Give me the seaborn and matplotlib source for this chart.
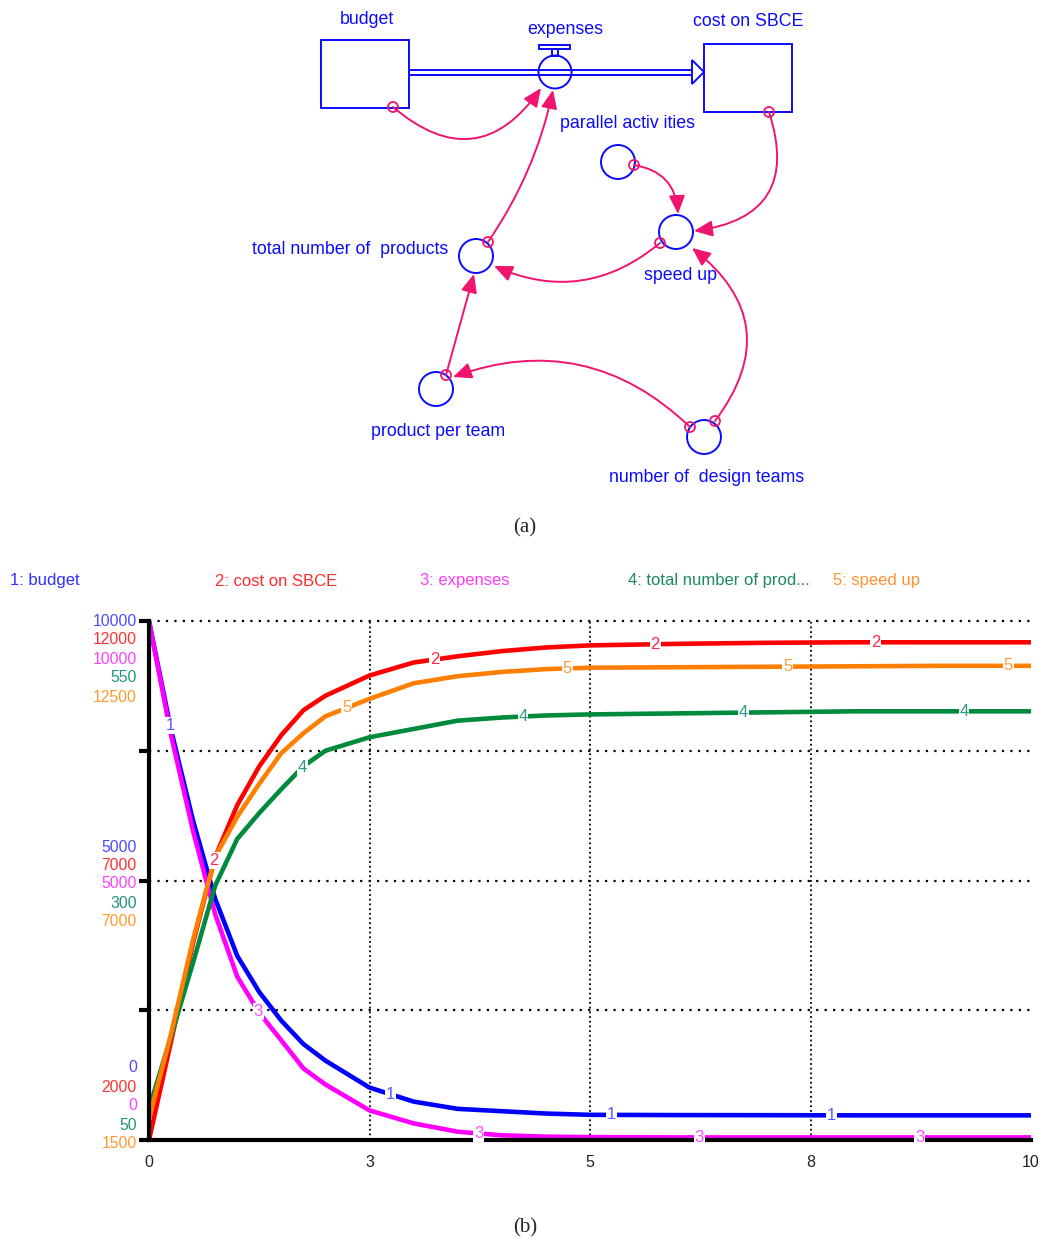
import numpy as np
import matplotlib
matplotlib.use("Agg")
import matplotlib.pyplot as plt
import seaborn as sns
from matplotlib.patches import Rectangle, Circle, FancyArrowPatch, Polygon

# ---------------- data ----------------
t = [0, 0.25, 0.5, 0.75, 1.0, 1.25, 1.5, 1.75, 2.0, 2.5, 3.0, 3.5, 4.0, 4.5,
     5.0, 6.0, 7.0, 8.0, 9.0, 10.0]
budget = [10000, 7900, 6150, 4650, 3550, 2850, 2300, 1850, 1530, 1010, 740,
          600, 555, 510, 485, 480, 478, 475, 475, 475]
cost_on_sbce = [2000, 3900, 5800, 7450, 8450, 9200, 9800, 10280, 10560, 10950,
                11200, 11320, 11420, 11490, 11530, 11560, 11580, 11590, 11590, 11590]
expenses = [10000, 7800, 5950, 4350, 3150, 2450, 1920, 1380, 1070, 570, 320,
            160, 90, 65, 55, 50, 50, 50, 50, 50]
total_products = [80, 150, 221, 295, 340, 365, 388, 410, 425, 438, 446, 454,
                  457, 459, 460, 461, 462, 463, 463, 463]
speed_up = [1950, 3750, 5750, 7500, 8350, 9050, 9700, 10120, 10480, 10850,
            11180, 11330, 11420, 11480, 11510, 11520, 11530, 11540, 11550, 11550]

series_names = ["1: budget", "2: cost on SBCE", "3: expenses",
                "4: total number of prod...", "5: speed up"]
y_lo = [0, 2000, 0, 50, 1500]
y_hi = [10000, 12000, 10000, 550, 12500]
x_ticks = [0, 2.5, 5, 7.5, 10]
x_tick_labels = ["0", "3", "5", "8", "10"]

# ---------------- figure ----------------
W, H = 1043, 1245
sns.set_style("white")
plt.rcParams["font.family"] = ["Liberation Sans", "DejaVu Sans"]
fig = plt.figure(figsize=(W / 100, H / 100), dpi=100)


def fx(px):
    return px / W


def fy(py):
    return 1 - py / H


# ---------------- (a) stock & flow diagram ----------------
axd = fig.add_axes([0, 0, 1, 1])
axd.set_xlim(0, W)
axd.set_ylim(H, 0)
axd.axis("off")
axd.set_zorder(0)

DBLUE = "#0a0aff"
PINK = "#f0146e"
lwd = 1.4

axd.add_patch(Rectangle((321, 40), 88, 68, fill=False, ec=DBLUE, lw=lwd))
axd.add_patch(Rectangle((704, 44), 88, 68, fill=False, ec=DBLUE, lw=lwd))
axd.plot([409, 692], [69.5, 69.5], color=DBLUE, lw=lwd)
axd.plot([409, 692], [74.5, 74.5], color=DBLUE, lw=lwd)
axd.add_patch(Polygon([(692, 60), (704, 72), (692, 84)], closed=True,
                      fc="white", ec=DBLUE, lw=lwd))
axd.add_patch(Circle((555, 72), 16.5, fill=False, ec=DBLUE, lw=lwd))
axd.add_patch(Rectangle((552, 49), 6, 6.5, fill=False, ec=DBLUE, lw=lwd))
axd.add_patch(Rectangle((539, 45), 31, 4, fill=False, ec=DBLUE, lw=lwd))

for cx, cy in [(618, 162), (676, 232), (476, 256), (436, 389), (704, 437)]:
    axd.add_patch(Circle((cx, cy), 17, fill=False, ec=DBLUE, lw=lwd))

labels_a = [("budget", 367, 19), ("expenses", 565, 30), ("cost on SBCE", 748, 22),
            ("parallel activ ities", 628, 124),
            ("total number of  products", 350, 250), ("speed up", 680, 275),
            ("product per team", 438, 432), ("number of  design teams", 707, 478)]
for s, x, y in labels_a:
    axd.text(x, y, s, color=DBLUE, fontsize=12.8, ha="center", va="center")

connectors = [((393, 107), (541, 88), 0.55),
              ((488, 242), (553, 90), 0.1),
              ((769, 112), (694, 231), -0.6),
              ((634, 165), (678, 214), -0.4),
              ((660, 243), (494, 266), -0.31),
              ((690, 427), (453, 377), 0.31),
              ((715, 421), (692, 248), 0.49),
              ((446, 375), (474, 274), 0.0)]
for a, b, rad in connectors:
    arr = FancyArrowPatch(a, b, connectionstyle=f"arc3,rad={rad}",
                          arrowstyle="-|>,head_length=0.8,head_width=0.35",
                          mutation_scale=14, color=PINK, lw=1.4,
                          shrinkA=0, shrinkB=0)
    axd.add_patch(arr)
    axd.add_patch(Circle(a, 5, fill=False, ec=PINK, lw=1.3))

fig.text(fx(525), fy(528), "(a)", fontsize=15, ha="center", va="center",
         family=["Liberation Serif", "DejaVu Serif"])
fig.text(fx(525), fy(1228), "(b)", fontsize=15, ha="center", va="center",
         family=["Liberation Serif", "DejaVu Serif"])

# ---------------- (b) graph ----------------
pos = [fx(149), fy(1140), 882 / W, 519 / H]

axg = fig.add_axes(pos)
axg.set_xlim(0, 10)
axg.set_ylim(0, 1)
axg.axis("off")
axg.set_zorder(1)
for xv in [2.5, 5, 7.5]:
    axg.axvline(xv, color="black", lw=1.3, ls=(0, (1, 1.6)))
for yv in [0.25, 0.5, 0.75, 1.0]:
    axg.axhline(yv, color="black", lw=1.6, ls=(0, (1, 2.8)), clip_on=False)

ax = fig.add_axes(pos)
ax.set_xlim(0, 10)
ax.set_ylim(0, 1)
ax.patch.set_visible(False)
ax.set_zorder(3)
for s in ["top", "right"]:
    ax.spines[s].set_visible(False)
for s in ["left", "bottom"]:
    ax.spines[s].set_linewidth(3)
    ax.spines[s].set_color("black")
    ax.spines[s].set_zorder(4)
ax.set_xticks(x_ticks)
ax.set_xticklabels(x_tick_labels, fontsize=11.5, color="#222222")
ax.set_yticks([0, 0.25, 0.5, 0.75, 1.0])
ax.set_yticklabels([])
ax.tick_params(axis="both", length=7, width=3, direction="out",
               color="black", pad=4)

line_cols = ["#0000ff", "#ff0000", "#ff00ff", "#008a3e", "#ff8000"]
lbl_cols = ["#5a5aff", "#ff2a4a", "#ff4cff", "#2a9a80", "#ff9a40"]
legend_cols = ["#3030ff", "#ff2a2a", "#ff3cff", "#1f8a5f", "#ff9030"]
ytl_cols = ["#4a4aff", "#ff3030", "#ff40ff", "#22957a", "#ff9a30"]
all_series = [budget, cost_on_sbce, expenses, total_products, speed_up]

twins = []
for k, vals in enumerate(all_series):
    axk = ax.twinx()
    axk.set_zorder(2)
    axk.set_ylim(y_lo[k], y_hi[k])
    axk.axis("off")
    sns.lineplot(x=t, y=vals, ax=axk, color=line_cols[k], lw=3.3,
                 legend=False, solid_capstyle="butt")
    twins.append(axk)

for k, vals in enumerate(all_series):
    for j in range(4):
        tl = 0.24 + 0.5 * k + 2.5 * j
        v = np.interp(tl, t, vals)
        ax.text(tl, v, str(k + 1), transform=twins[k].transData,
                color=lbl_cols[k], fontsize=12, ha="center", va="center",
                zorder=5, clip_on=False,
                bbox=dict(boxstyle="square,pad=0.05", fc="white", ec="none"))

rows = {"top": [621, 640, 659, 678, 697],
        "mid": [847, 866, 884, 903, 922],
        "bot": [1068, 1087, 1106, 1125, 1143]}
for k in range(5):
    lo, hi = y_lo[k], y_hi[k]
    mid = (lo + hi) / 2
    for key, val in [("top", hi), ("mid", mid), ("bot", lo)]:
        fig.text(fx(137), fy(rows[key][k]), f"{val:g}", color=ytl_cols[k],
                 fontsize=11.3, ha="right", va="center")

for name, x, c in zip(series_names, [10, 215, 420, 628, 833], legend_cols):
    fig.text(fx(x), fy(581), name, color=c, fontsize=12, ha="left", va="center")

fig.savefig("out.png", dpi=100)
